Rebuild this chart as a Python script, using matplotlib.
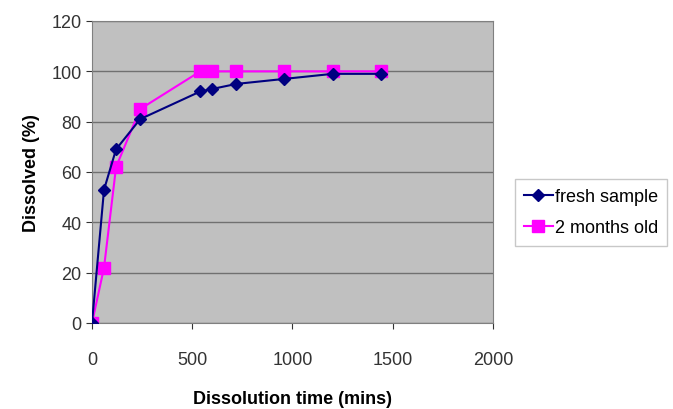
import matplotlib
matplotlib.use("Agg")
import matplotlib.pyplot as plt

# dissolution data
time_fresh = [0, 60, 120, 240, 540, 600, 720, 960, 1200, 1440]
diss_fresh = [0, 53, 69, 81, 92, 93, 95, 97, 99, 99]
time_old = [0, 60, 120, 240, 540, 600, 720, 960, 1200, 1440]
diss_old = [0, 22, 62, 85, 100, 100, 100, 100, 100, 100]

plt.rcParams['font.family'] = ['Liberation Sans', 'DejaVu Sans']

fig = plt.figure(figsize=(6.73, 4.10), dpi=100)
ax = fig.add_axes([92/673, 1 - 324/410, (493-92)/673, (324-22)/410])
ax.set_facecolor('#c0c0c0')

ax.plot(time_fresh, diss_fresh, color='#000080', marker='D', ms=6, lw=1.5,
        label='fresh sample', zorder=3)
ax.plot(time_old, diss_old, color='#ff00ff', marker='s', ms=9, lw=1.5,
        label='2 months old', zorder=2)

ax.set_xlim(0, 2000)
ax.set_ylim(0, 120)
ax.set_xticks(range(0, 2001, 500))
ax.set_yticks(range(0, 121, 20))
ax.grid(axis='y', color='#707070', lw=1)
ax.set_axisbelow(True)
for s in ax.spines.values():
    s.set_color('#808080')
ax.tick_params(labelsize=13, colors='#333333', length=4)
ax.tick_params(axis='x', pad=16)

ax.set_xlabel('Dissolution time (mins)', fontsize=13, fontweight='bold', labelpad=16)
ax.set_ylabel('Dissolved (%)', fontsize=13, fontweight='bold', labelpad=8)

leg = ax.legend(loc='upper left', bbox_to_anchor=(515/673, 1 - 180/410),
                bbox_transform=fig.transFigure, fontsize=13, frameon=True,
                fancybox=False, edgecolor='#bbbbbb', handlelength=1.6,
                handletextpad=0.1, borderaxespad=0, borderpad=0.5,
                labelspacing=0.8)

fig.savefig('out.png', dpi=100)
